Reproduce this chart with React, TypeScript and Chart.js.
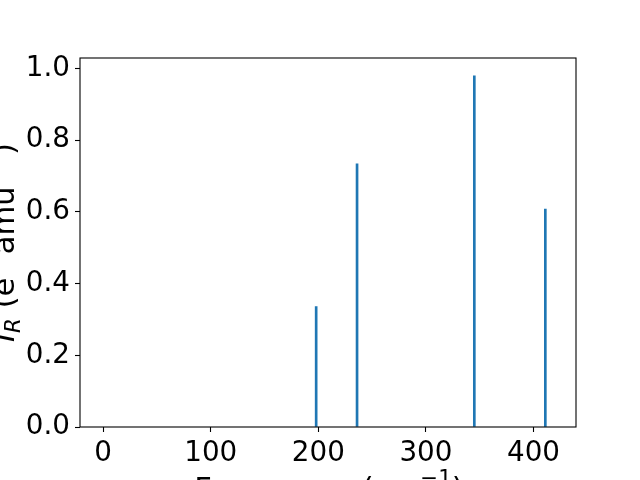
import { useEffect, useRef } from "react";
import { Chart, registerables } from "chart.js";

Chart.register(...registerables);

const frequencies = [198, 236, 345, 411];
const intensities = [0.336, 0.734, 0.98, 0.608];
const xTickValues = [0, 100, 200, 300, 400];
const yTickValues = [0, 0.2, 0.4, 0.6, 0.8, 1.0];
const xRange = [-21.5, 439.5];
const yRange = [0, 1.0295];

type Seg = { t: string; s?: number; dy?: number; it?: boolean };
const xTitleSegs: Seg[] = [
  { t: "Frequency (cm" },
  { t: "\u22121", s: 0.7, dy: -0.45 },
  { t: ")" },
];
const yTitleSegs: Seg[] = [
  { t: "I", it: true },
  { t: "R", s: 0.7, dy: 0.22, it: true },
  { t: " (e" },
  { t: "2", s: 0.7, dy: -0.45 },
  { t: " amu" },
  { t: "\u22121", s: 0.7, dy: -0.45 },
  { t: ")" },
];

const FONT = '"DejaVu Sans"';
const FS = 27.78;
const TITLE_FS = 30.56;

function fontOf(seg: Seg) {
  return `${seg.it ? "italic " : ""}${TITLE_FS * (seg.s ?? 1)}px ${FONT}`;
}

function drawRich(ctx: CanvasRenderingContext2D, segs: Seg[], cx: number, baseY: number) {
  let total = 0;
  for (const sg of segs) {
    ctx.font = fontOf(sg);
    total += ctx.measureText(sg.t).width;
  }
  let x = cx - total / 2;
  ctx.textAlign = "left";
  ctx.textBaseline = "alphabetic";
  for (const sg of segs) {
    ctx.font = fontOf(sg);
    ctx.fillText(sg.t, x, baseY + (sg.dy ?? 0) * TITLE_FS);
    x += ctx.measureText(sg.t).width;
  }
}

const framePlugin = {
  id: "frame",
  afterDraw(chart: any) {
    const { ctx, chartArea: a } = chart;
    ctx.save();
    ctx.strokeStyle = "#000";
    ctx.lineWidth = 1.1;
    ctx.strokeRect(a.left, a.top, a.right - a.left, a.bottom - a.top);
    ctx.fillStyle = "#000";
    drawRich(ctx, xTitleSegs, (a.left + a.right) / 2 + 1, 499);
    ctx.translate(13.5, (a.top + a.bottom) / 2);
    ctx.rotate(-Math.PI / 2);
    drawRich(ctx, yTitleSegs, 0, 0);
    ctx.restore();
  },
};

export default function App() {
  const ref = useRef<HTMLCanvasElement>(null);
  useEffect(() => {
    if (!ref.current) return;
    const chart = new Chart(ref.current, {
      type: "bar",
      data: {
        datasets: [
          {
            data: frequencies.map((f, i) => ({ x: f, y: intensities[i] })),
            backgroundColor: "#1f77b4",
            borderWidth: 0,
            barThickness: 2,
          },
        ],
      },
      options: {
        animation: false,
        responsive: false,
        devicePixelRatio: 1,
        layout: { padding: { top: 58, right: 64, left: 0, bottom: 0 } },
        plugins: { legend: { display: false }, tooltip: { enabled: false } },
        scales: {
          x: {
            type: "linear",
            offset: false,
            min: xRange[0],
            max: xRange[1],
            afterBuildTicks: (s: any) => {
              s.ticks = xTickValues.map((v) => ({ value: v }));
            },
            afterFit: (s: any) => {
              s.height = 53;
            },
            border: { display: false },
            grid: {
              offset: false,
              drawOnChartArea: false,
              drawTicks: true,
              tickLength: 5,
              tickWidth: 1.1,
              tickColor: "#000",
            },
            ticks: {
              color: "#000",
              padding: 5,
              maxRotation: 0,
              autoSkip: false,
              font: { family: "DejaVu Sans", size: FS },
              callback: (v: any) => String(v),
            },
          },
          y: {
            type: "linear",
            min: yRange[0],
            max: yRange[1],
            afterBuildTicks: (s: any) => {
              s.ticks = yTickValues.map((v) => ({ value: v }));
            },
            afterFit: (s: any) => {
              s.width = 80;
            },
            border: { display: false },
            grid: {
              drawOnChartArea: false,
              drawTicks: true,
              tickLength: 5,
              tickWidth: 1.1,
              tickColor: "#000",
            },
            ticks: {
              color: "#000",
              padding: 5,
              autoSkip: false,
              font: { family: "DejaVu Sans", size: FS },
              callback: (v: any) => Number(v).toFixed(1),
            },
          },
        },
      },
      plugins: [framePlugin],
    });
    return () => chart.destroy();
  }, []);
  return (
    <div style={{ position: "fixed", left: 0, top: 0, width: 640, height: 480, background: "#fff" }}>
      <canvas ref={ref} width={640} height={480} style={{ width: 640, height: 480 }} />
    </div>
  );
}
